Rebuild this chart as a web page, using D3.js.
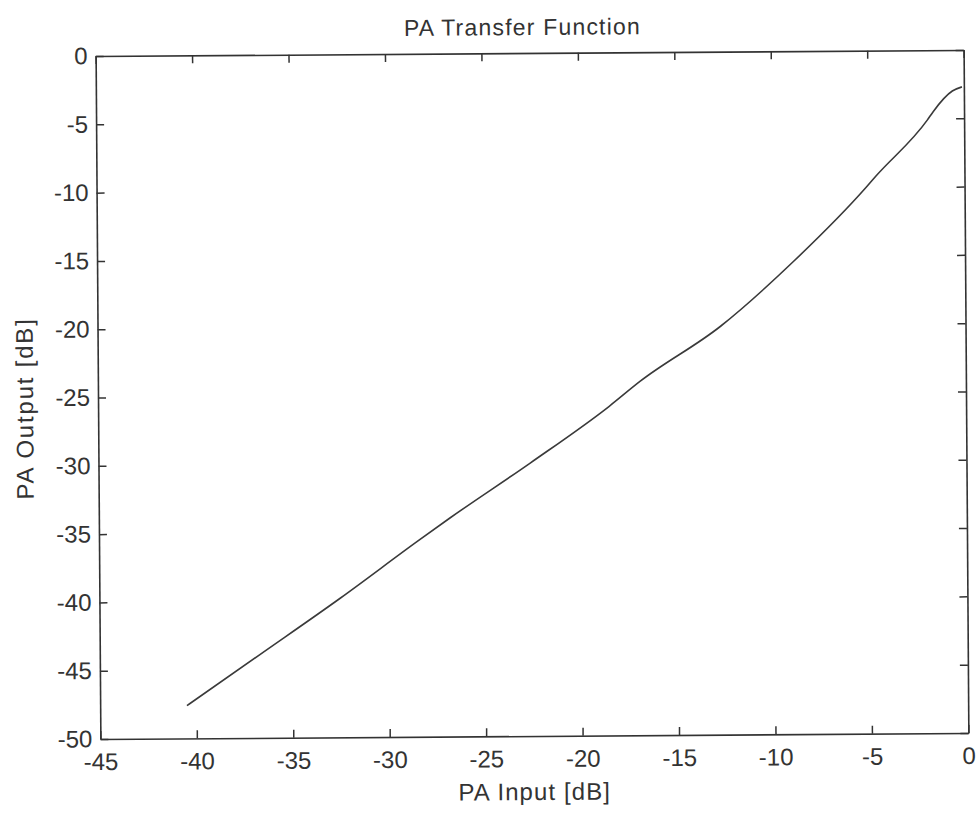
<!DOCTYPE html>
<html>
<head>
<meta charset="utf-8">
<script src="https://cdn.jsdelivr.net/npm/d3@7"></script>
<style>
  body { margin: 0; background: #fff; }
  svg text { font-family: "Liberation Sans", Arial, sans-serif; fill: #333; }
</style>
</head>
<body>
<article></article>
<script>
// values
const paInput = [-40.5, -36.7, -32.5, -28.5, -26.8, -22.6, -18.5, -16.9, -12.7, -8.9, -5.1, -4.6, -1.9, -1.6, -0.6, -0.1]
const paOutput = [-47.6, -43.9, -39.8, -35.7, -34.0, -30.0, -25.9, -24.1, -20.1, -15.4, -10.0, -9.2, -5.1, -4.5, -3.0, -2.7]
const xTicks = [-45, -40, -35, -30, -25, -20, -15, -10, -5, 0]
const yTicks = [0, -5, -10, -15, -20, -25, -30, -35, -40, -45, -50]

const m = {
    width: 980,
    height: 815,
    left: 98,
    right: 966,
    top: 53,
    bottom: 736
}

const svg = d3.select("article").append('svg')
    .attr('width', m.width)
    .attr('height', m.height)

// the scan is tilted a little
const g = svg.append('g')
    .attr('transform', 'rotate(-0.4, 532, 395)')

const x = d3.scaleLinear()
    .domain([-45, 0])
    .range([m.left, m.right])

const y = d3.scaleLinear()
    .domain([-50, 0])
    .range([m.bottom, m.top])

// plain hyphen instead of d3's unicode minus
const fmt = function (d) { return d === 0 ? '0' : String(d) }

function styleAxis(sel) {
    sel.selectAll('path').attr('stroke', '#333').attr('stroke-width', 1.6)
    sel.selectAll('line').attr('stroke', '#333').attr('stroke-width', 1.5)
    sel.selectAll('text').attr('font-size', 24).attr('fill', '#333')
}

g.append('g')
    .attr('transform', `translate(0,${m.bottom})`)
    .call(d3.axisBottom(x).tickValues(xTicks).tickSizeInner(-8).tickSizeOuter(0).tickPadding(14).tickFormat(fmt))
    .call(styleAxis)
    .call(s => s.selectAll('text').attr('dy', '0.71em'))

g.append('g')
    .attr('transform', `translate(0,${m.top})`)
    .call(d3.axisTop(x).tickValues(xTicks).tickSizeInner(-8).tickSizeOuter(0).tickFormat(''))
    .call(styleAxis)

g.append('g')
    .attr('transform', `translate(${m.left},0)`)
    .call(d3.axisLeft(y).tickValues(yTicks).tickSizeInner(-8).tickSizeOuter(0).tickPadding(8).tickFormat(fmt))
    .call(styleAxis)

g.append('g')
    .attr('transform', `translate(${m.right},0)`)
    .call(d3.axisRight(y).tickValues(yTicks).tickSizeInner(-8).tickSizeOuter(0).tickFormat(''))
    .call(styleAxis)

const line = d3.line()
    .curve(d3.curveMonotoneX)
    .x(function (d, i) { return x(paInput[i]) })
    .y(function (d, i) { return y(paOutput[i]) })

g.append('path')
    .datum(paInput)
    .attr('fill', 'none')
    .attr('stroke', '#3a3a3a')
    .attr('stroke-width', 1.6)
    .attr('d', line)

g.append('text')
    .attr('x', 525)
    .attr('y', 35)
    .attr('text-anchor', 'middle')
    .attr('font-size', 23)
    .attr('letter-spacing', 1.2)
    .text('PA Transfer Function')

g.append('text')
    .attr('x', 532)
    .attr('y', 800)
    .attr('text-anchor', 'middle')
    .attr('font-size', 24)
    .attr('letter-spacing', 1.1)
    .text('PA Input [dB]')

g.append('text')
    .attr('transform', 'translate(33,405) rotate(-90)')
    .attr('text-anchor', 'middle')
    .attr('font-size', 24)
    .attr('letter-spacing', 1.8)
    .text('PA Output [dB]')
</script>
</body>
</html>
